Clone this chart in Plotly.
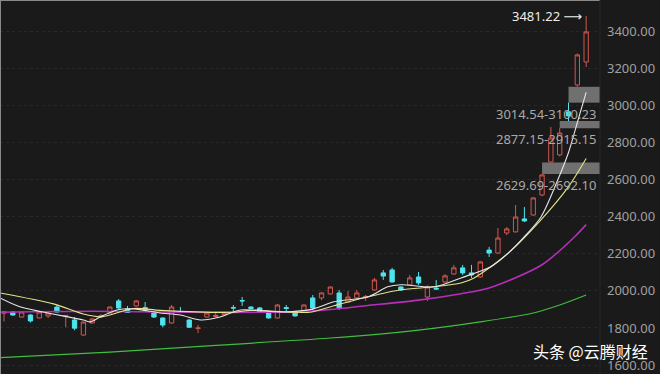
import plotly.graph_objects as go

# ---------------- data ----------------
opens = [1880, 1886, 1859, 1870, 1854, 1865, 1913, 1862, 1843, 1762,
         1827, 1860, 1881, 1946, 1903, 1919, 1910, 1881, 1854, 1827,
         1888, 1843, 1797, 1859, 1862, 1870, 1910, 1948, 1913, 1908,
         1881, 1854, 1910, 1881, 1890, 1962, 1962, 1984, 1989, 1940,
         1962, 1965, 2005, 2097, 2113, 2021, 2032, 2075, 1967, 2015,
         2048, 2091, 2124, 2097, 2075, 2220, 2204, 2312, 2318, 2388,
         2409, 2517, 2695, 2733, 2965, 3110, 3234]
highs = [1890, 1890, 1889, 1873, 1888, 1884, 1924, 1870, 1859, 1835,
         1852, 1875, 1916, 1956, 1919, 1950, 1940, 1884, 1857, 1924,
         1913, 1846, 1816, 1884, 1886, 1884, 1924, 1967, 1916, 1913,
         1892, 1930, 1924, 1884, 1927, 1978, 1992, 2024, 2005, 2000,
         2005, 1978, 2070, 2113, 2124, 2024, 2086, 2102, 2030, 2059,
         2090, 2140, 2140, 2140, 2160, 2237, 2339, 2344, 2463, 2452,
         2505, 2629.69, 2884, 2877.15, 3014.54, 3280, 3481.22]
lows = [1835, 1866, 1856, 1830, 1852, 1854, 1884, 1804, 1788, 1758,
        1824, 1857, 1878, 1903, 1881, 1916, 1886, 1854, 1804, 1824,
        1880, 1800, 1773, 1856, 1859, 1868, 1881, 1919, 1902, 1881,
        1851, 1851, 1886, 1862, 1886, 1897, 1950, 1980, 1897, 1938,
        1960, 1946, 2002, 2059, 2045, 2000, 2029, 2032, 1945, 2005,
        2045, 2088, 2086, 2070, 2072, 2183, 2200, 2300, 2315, 2371,
        2405, 2510, 2692.10, 2725, 2915.15, 3100.23, 3207]
closes = [1887, 1870, 1886, 1838, 1886, 1881, 1886, 1868, 1799, 1832,
          1849, 1866, 1913, 1908, 1884, 1946, 1897, 1859, 1816, 1913,
          1884, 1804, 1800, 1881, 1868, 1881, 1908, 1946, 1905, 1886,
          1854, 1924, 1905, 1865, 1924, 1908, 1989, 2021, 1908, 1967,
          1989, 1970, 2059, 2080, 2048, 2005, 2070, 2043, 2021, 2010,
          2081, 2124, 2097, 2086, 2156, 2204, 2285, 2334, 2398, 2377,
          2501, 2625, 2824, 2851, 2943, 3272, 3396]
bar_index = list(range(len(opens)))

# moving-average lines (bar index, value)
ma_white_x = [-0.45, 1.8, 4.4, 9.0, 9.8, 10.9, 12.8, 14.7, 17.7, 20.0, 22.3, 24.5,
              26.8, 31.7, 35.1, 37.4, 41.3, 43.5, 45.0, 48.75, 51.8, 55.2, 57.2,
              59.0, 60.9, 62.8, 64.0, 65.1, 66.0]
ma_white_y = [1962, 1914, 1886, 1843, 1833, 1859, 1897, 1903, 1881, 1870, 1843, 1859,
              1897, 1886, 1903, 1941, 1968, 2022, 2033, 2022, 2070, 2130, 2205,
              2292, 2400, 2600, 2746, 2924, 3070]
ma_yellow_x = [-0.45, 5.6, 9.0, 11.0, 14.7, 17.7, 26.0, 28.0, 34.7, 37.4, 41.3, 45.0,
               48.75, 51.8, 53.3, 57.2, 60.9, 64.0, 66.0]
ma_yellow_y = [1989, 1930, 1875, 1860, 1905, 1895, 1885, 1895, 1885, 1920, 1968, 2006,
               2022, 2043, 2070, 2205, 2384, 2562, 2714]
ma_magenta_x = [-0.45, 10, 20, 33, 37, 41, 47, 51.8, 55, 61, 64.7, 66]
ma_magenta_y = [1885, 1890, 1885, 1887, 1900, 1920, 1950, 1985, 2016, 2141, 2292, 2357]
ma_green_x = [-0.45, 12, 24.5, 37, 47, 54, 60, 63, 66]
ma_green_y = [1640, 1670, 1708, 1746, 1789, 1833, 1881, 1924, 1978]

# price gaps: (start bar, low, high)
gap_start = [61, 63, 64]
gap_low = [2629.69, 2877.15, 3014.54]
gap_high = [2692.10, 2915.15, 3100.23]

peak_value = 3481.22
tick_values = [1600, 1800, 2000, 2200, 2400, 2600, 2800, 3000, 3200, 3400]
tick_labels = [f"{v:.2f}" for v in tick_values]
watermark = "头条 @云腾财经"

# ---------------- figure ----------------
BG = "#1a1a1a"
RED = "#d4574f"
CYAN = "#4fe3ee"
X_MIN, X_MAX = -0.4535, 67.57
Y_MIN, Y_MAX = 1552, 3568

fig = go.Figure()

for xs, ys, col, w in [
    (ma_green_x, ma_green_y, "#3fbf3f", 1.2),
    (ma_magenta_x, ma_magenta_y, "#b52fb8", 1.6),
    (ma_yellow_x, ma_yellow_y, "#e4e48a", 1.1),
    (ma_white_x, ma_white_y, "#e6e6e6", 1.1),
]:
    fig.add_trace(go.Scatter(x=xs, y=ys, mode="lines",
                             line=dict(color=col, width=w, shape="spline", smoothing=0.8),
                             hoverinfo="skip", showlegend=False))

fig.add_trace(go.Candlestick(
    x=bar_index, open=opens, high=highs, low=lows, close=closes,
    increasing=dict(line=dict(color=RED, width=1), fillcolor=BG),
    decreasing=dict(line=dict(color=CYAN, width=1), fillcolor=CYAN),
    whiskerwidth=0, showlegend=False,
))

# gap boxes and labels
for s, lo, hi in zip(gap_start, gap_low, gap_high):
    fig.add_shape(type="rect", xref="x", yref="y", x0=s, x1=X_MAX, y0=lo, y1=hi,
                  fillcolor="#707070", line=dict(width=0), layer="below")
    fig.add_annotation(xref="paper", yref="y", x=598 / 600, y=lo, xanchor="right",
                       yanchor="top", showarrow=False, text=f"{lo:.2f}-{hi:.2f}",
                       font=dict(color="#a9a9a9", size=13, family="Noto Sans"), yshift=0)

# peak annotation
fig.add_annotation(xref="x", yref="y", x=bar_index[-1], y=peak_value, xanchor="right",
                   yanchor="middle", xshift=-2, showarrow=False,
                   text=f"{peak_value:.2f} ⟶",
                   font=dict(color="#eeeeee", size=13, family="Noto Sans, DejaVu Sans"))

# watermark
fig.add_annotation(xref="paper", yref="paper", x=650 / 600, y=(374 - 351) / 374,
                   xanchor="right", yanchor="middle", showarrow=False, text=watermark,
                   font=dict(color="#ffffff", size=16, family="Noto Sans CJK SC"))

# frame lines
fig.add_shape(type="line", xref="paper", yref="paper", x0=0, x1=0, y0=0, y1=1,
              line=dict(color="#8a8a8a", width=2))
fig.add_shape(type="line", xref="paper", yref="paper", x0=0, x1=1, y0=1, y1=1,
              line=dict(color="#8a8a8a", width=2))
fig.add_shape(type="line", xref="paper", yref="paper", x0=1, x1=1, y0=0, y1=1,
              line=dict(color="#262626", width=1))

fig.update_layout(
    width=660, height=374,
    margin=dict(l=0, r=60, t=0, b=0),
    paper_bgcolor=BG, plot_bgcolor=BG,
    showlegend=False,
    xaxis=dict(range=[X_MIN, X_MAX], visible=False, rangeslider=dict(visible=False),
               showgrid=False, zeroline=False),
    yaxis=dict(range=[Y_MIN, Y_MAX], side="right", tickvals=tick_values, ticktext=tick_labels,
               tickfont=dict(color="#a0a0a0", size=13, family="Noto Sans"),
               showgrid=True, gridcolor="#282828", griddash="dot", gridwidth=1,
               zeroline=False, ticks="", ticklabelstandoff=6, showline=False),
)

fig.write_html("out.html")
